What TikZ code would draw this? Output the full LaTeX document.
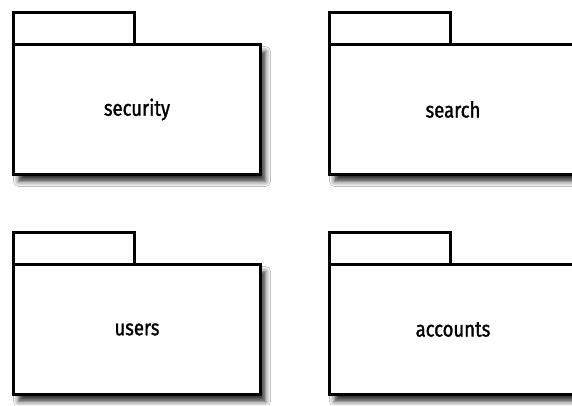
\documentclass[tikz,border=0pt]{standalone}
\usepackage{fontspec}
\setmainfont{Fira Sans}
\newfontfamily\pkgfont[FakeBold=1.3, FakeStretch=0.84]{Fira Sans}
\usetikzlibrary{positioning,shadows.blur}

\begin{document}
\begin{tikzpicture}[x=1pt, y=-1pt,
  pkgbody/.style={draw=black, line width=2.8pt, fill=white, minimum width=247pt,
    minimum height=130pt, inner sep=0pt, outer sep=0pt,
    font=\pkgfont\fontsize{22}{26}\selectfont,
    blur shadow={shadow xshift=5pt, shadow yshift=-7pt, shadow blur radius=5pt,
      shadow opacity=80}},
  pkgtab/.style={draw=black, line width=2.8pt, fill=white, minimum width=121pt,
    minimum height=32pt, inner sep=0pt, outer sep=0pt, anchor=south west}]
  \clip (0,0) rectangle (572,405);
  \fill[white] (0,0) rectangle (572,405);

  % packages, top row
  \node[pkgbody] (security) at (137,109.5) {security};
  \node[pkgtab] (securitytab) at (security.north west) {};
  \node[pkgbody] (search) at (453,109.5) {search};
  \node[pkgtab] (searchtab) at (search.north west) {};

  % packages, bottom row
  \node[pkgbody] (users) at (137,329.5) {users};
  \node[pkgtab] (userstab) at (users.north west) {};
  \node[pkgbody] (accounts) at (453,329.5) {accounts};
  \node[pkgtab] (accountstab) at (accounts.north west) {};
\end{tikzpicture}
\end{document}
